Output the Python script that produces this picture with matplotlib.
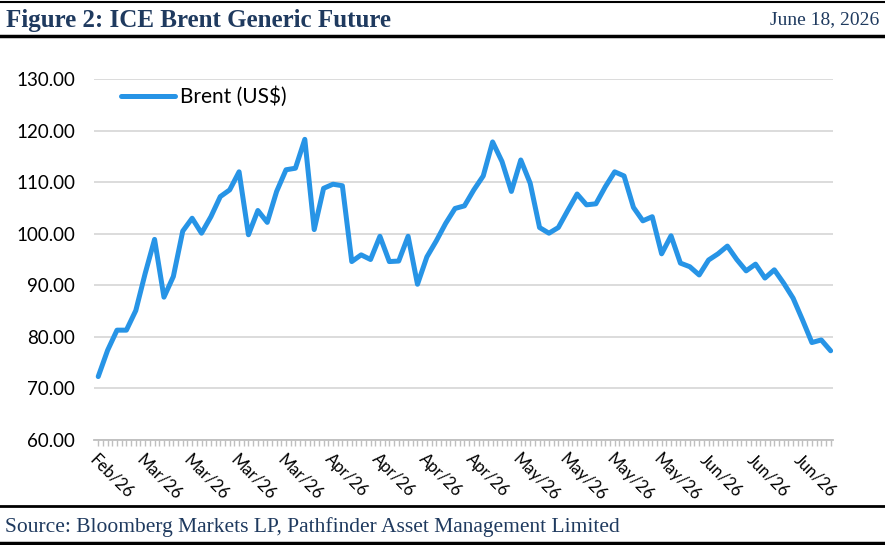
import matplotlib
matplotlib.use("Agg")
import matplotlib.pyplot as plt
from matplotlib.lines import Line2D
from matplotlib.ticker import MultipleLocator, FixedLocator, FixedFormatter

# ---- data ----
brent = [72.3, 77.4, 81.3, 81.3, 85.1, 92.3, 98.9, 87.7, 91.7, 100.5,
         103.0, 100.1, 103.3, 107.2, 108.5, 112.0, 99.8, 104.5, 102.2, 108.2,
         112.4, 112.7, 118.3, 100.8, 108.8, 109.6, 109.3, 94.6, 95.9, 95.0,
         99.5, 94.6, 94.7, 99.5, 90.2, 95.5, 98.6, 102.0, 104.9, 105.4,
         108.5, 111.2, 117.8, 114.0, 108.2, 114.3, 109.8, 101.2, 100.1, 101.2,
         104.5, 107.7, 105.6, 105.8, 109.1, 112.0, 111.2, 105.1, 102.5, 103.3,
         96.1, 99.6, 94.3, 93.6, 92.0, 94.9, 96.1, 97.6, 95.0, 92.8,
         94.1, 91.4, 93.0, 90.4, 87.5, 83.3, 78.9, 79.4, 77.3]
tick_labels = ["Feb/26", "Mar/26", "Mar/26", "Mar/26", "Mar/26",
               "Apr/26", "Apr/26", "Apr/26", "Apr/26",
               "May/26", "May/26", "May/26", "May/26",
               "Jun/26", "Jun/26", "Jun/26"]
label_step = 5
y_ticks = [60, 70, 80, 90, 100, 110, 120, 130]
series_name = "Brent (US$)"
title = "Figure 2: ICE Brent Generic Future"
date_text = "June 18, 2026"
source = "Source: Bloomberg Markets LP, Pathfinder Asset Management Limited"

W, H = 885, 545
fig = plt.figure(figsize=(W / 100, H / 100), dpi=100)

navy = "#1F3A5F"
serif = ["Liberation Serif", "DejaVu Serif"]
sans = ["Lato", "DejaVu Sans"]

# header / footer
fig.text(6 / W, 1 - 20 / H, title, fontsize=18, fontweight="bold", color=navy,
         family=serif, ha="left", va="center")
fig.text(879 / W, 1 - 20 / H, date_text, fontsize=14, color=navy,
         family=serif, ha="right", va="center")
fig.text(5 / W, 1 - 527 / H, source, fontsize=15.5, color=navy,
         family=serif, ha="left", va="center")
for yy, lw in [(1.5, 1.5), (35.5, 2.5), (506, 2.0), (542.5, 2.5)]:
    fig.add_artist(Line2D([0, 1], [1 - yy / H, 1 - yy / H], color="black",
                          lw=lw, transform=fig.transFigure))

ax = fig.add_axes([94 / W, 1 - 440 / H, (833 - 94) / W, (440 - 79) / H])
x = list(range(len(brent)))
ax.plot(x, brent, color="#2794E6", lw=3.6, solid_joinstyle="round",
        solid_capstyle="round", label=series_name, zorder=3)

ax.set_ylim(60, 130)
ax.set_xlim(-0.45, len(brent) - 0.75)
ax.set_yticks(y_ticks)
ax.set_yticklabels([f"{v:.2f}" for v in y_ticks], family=sans, fontsize=13.5)
ax.grid(axis="y", color="#D9D9D9", lw=1.3)
ax.set_axisbelow(True)

lab_pos = [i * label_step for i in range(len(tick_labels))]
ax.xaxis.set_major_locator(FixedLocator(lab_pos))
ax.xaxis.set_major_formatter(FixedFormatter(tick_labels))
ax.xaxis.set_minor_locator(MultipleLocator(0.5))
for lab in ax.get_xticklabels():
    lab.set_rotation(-45)
    lab.set_ha("left")
    lab.set_va("top")
    lab.set_rotation_mode("anchor")
    lab.set_family(sans)
    lab.set_fontsize(12)
ax.tick_params(axis="x", which="both", length=4, width=1, color="#BFBFBF",
               direction="out", pad=4)
ax.tick_params(axis="y", length=0, pad=13.7)

for s in ["top", "right", "left"]:
    ax.spines[s].set_visible(False)
ax.spines["bottom"].set_color("#BFBFBF")
ax.spines["bottom"].set_linewidth(1.3)

leg = ax.legend(loc="center left", bbox_to_anchor=(27 / 739, (440 - 97) / 361),
                frameon=False, borderpad=0, borderaxespad=0,
                handlelength=2.6, handletextpad=0.25,
                prop={"family": sans, "size": 15})

fig.savefig("out.png", dpi=100)
